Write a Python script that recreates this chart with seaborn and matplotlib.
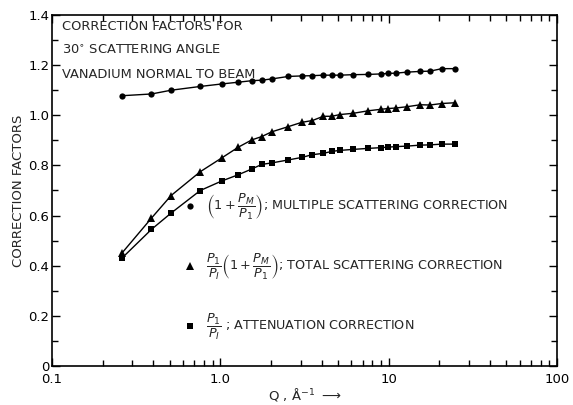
import matplotlib
matplotlib.use("Agg")
import matplotlib.pyplot as plt
import seaborn as sns
import numpy as np
import pandas as pd
from matplotlib.lines import Line2D
from matplotlib.ticker import LogLocator, NullFormatter, MultipleLocator

# ---- data ----
q = [0.26, 0.39, 0.51, 0.76, 1.02, 1.28, 1.54, 1.76, 2.02, 2.54, 3.05, 3.52,
     4.09, 4.59, 5.14, 6.17, 7.57, 9.02, 9.96, 11.0, 12.8, 15.4, 17.6, 20.7, 24.8]
multiple = [1.078, 1.085, 1.100, 1.115, 1.125, 1.132, 1.138, 1.140, 1.145, 1.155,
            1.157, 1.158, 1.160, 1.160, 1.160, 1.162, 1.163, 1.165, 1.167, 1.168,
            1.172, 1.175, 1.176, 1.186, 1.186]
total = [0.45, 0.59, 0.68, 0.775, 0.83, 0.873, 0.902, 0.915, 0.934, 0.955, 0.972,
         0.979, 0.996, 0.996, 1.003, 1.008, 1.018, 1.024, 1.027, 1.029, 1.034,
         1.042, 1.041, 1.047, 1.050]
attenuation = [0.43, 0.545, 0.61, 0.70, 0.738, 0.763, 0.786, 0.804, 0.810, 0.822,
               0.832, 0.843, 0.848, 0.856, 0.860, 0.864, 0.868, 0.871, 0.873, 0.875,
               0.877, 0.881, 0.882, 0.885, 0.885]

series_labels = [
    r"$\left(1+\dfrac{P_M}{P_1}\right)$; MULTIPLE SCATTERING CORRECTION",
    r"$\dfrac{P_1}{P_I}\left(1+\dfrac{P_M}{P_1}\right)$; TOTAL SCATTERING CORRECTION",
    r"$\dfrac{P_1}{P_I}$ ; ATTENUATION CORRECTION",
]
markers = ["o", "^", "s"]
title_lines = ["CORRECTION FACTORS FOR", r"30$^{\circ}$ SCATTERING ANGLE", "VANADIUM NORMAL TO BEAM"]
yticks = [0, 0.2, 0.4, 0.6, 0.8, 1.0, 1.2, 1.4]
yticklabels = ["0", "0.2", "0.4", "0.6", "0.8", "1.0", "1.2", "1.4"]
xticks = [0.1, 1, 10, 100]
xticklabels = ["0.1", "1.0", "10", "100"]

df = pd.DataFrame({"Q": q * 3,
                   "value": multiple + total + attenuation,
                   "series": ["m"] * len(q) + ["t"] * len(q) + ["a"] * len(q)})

sns.set_style("ticks")
plt.rcParams["font.family"] = ["DejaVu Sans"]

fig = plt.figure(figsize=(5.73, 4.05), dpi=100)
ax = fig.add_axes([52 / 573, 1 - 366 / 405, 505 / 573, 351 / 405])

sizes = [4.5, 5.2, 4.5]
for key, mk, ms in zip(["m", "t", "a"], markers, sizes):
    sub = df[df["series"] == key]
    sns.lineplot(data=sub, x="Q", y="value", color="black", lw=1.0,
                 marker=mk, markersize=ms, markeredgewidth=0, ax=ax, legend=False)

ax.set_xscale("log")
ax.set_xlim(0.1, 100)
ax.set_ylim(0, 1.4)
ax.set_xticks(xticks)
ax.set_xticklabels(xticklabels)
ax.xaxis.set_minor_locator(LogLocator(base=10, subs=np.arange(2, 10)))
ax.xaxis.set_minor_formatter(NullFormatter())
ax.set_yticks(yticks)
ax.set_yticklabels(yticklabels)
ax.yaxis.set_minor_locator(MultipleLocator(0.1))
ax.tick_params(which="both", direction="in", top=True, right=True, colors="black",
               labelsize=9.5)
ax.tick_params(which="major", length=6, width=1)
ax.tick_params(which="minor", length=4, width=1)
ax.tick_params(axis="x", pad=5)
ax.tick_params(axis="y", pad=2)
for s in ax.spines.values():
    s.set_visible(True)
    s.set_linewidth(1.2)
    s.set_color("black")

ax.set_ylabel("CORRECTION FACTORS", fontsize=9.5, labelpad=2)
ax.set_xlabel(r"Q , $\mathrm{\AA}^{-1}$ $\longrightarrow$", fontsize=9.5, labelpad=0)

for i, line in enumerate(title_lines):
    ax.text(0.02, 0.985 - i * 0.068, line, transform=ax.transAxes, fontsize=9.4,
            va="top", ha="left")

handles = [Line2D([], [], color="black", marker=m, ls="none", markersize=s, markeredgewidth=0)
           for m, s in zip(markers, sizes)]
leg = ax.legend(handles, series_labels, loc="upper left", bbox_to_anchor=(0.25, 0.515),
                frameon=False, fontsize=9.2, labelspacing=2.35, handlelength=0.8,
                handletextpad=0.9, borderpad=0)

fig.savefig("out.png", dpi=100)
